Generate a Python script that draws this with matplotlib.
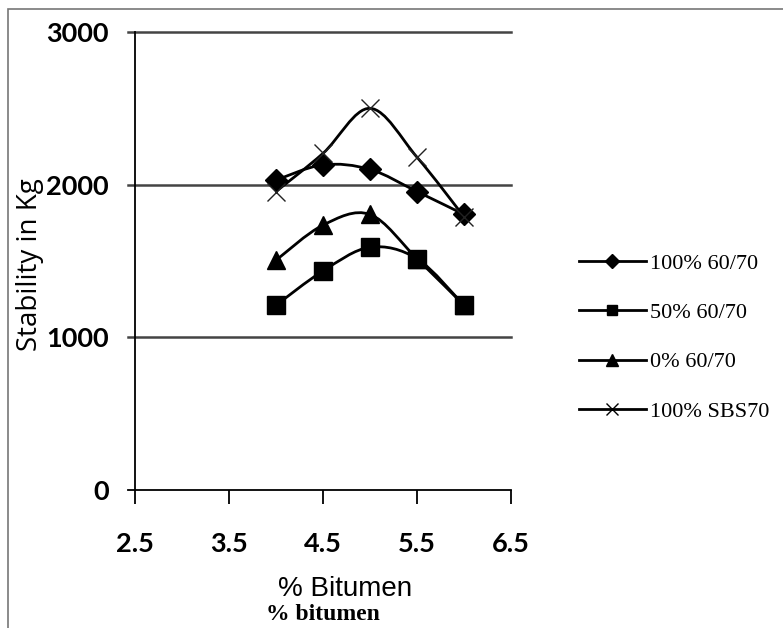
import numpy as np
import matplotlib
matplotlib.use("Agg")
import matplotlib.pyplot as plt
from matplotlib.path import Path
from matplotlib.patches import PathPatch, Rectangle
from matplotlib.lines import Line2D

# ---- data ----
bitumen = [4.0, 4.5, 5.0, 5.5, 6.0]
s100_6070 = [2030, 2130, 2100, 1955, 1805]
s50_6070 = [1210, 1435, 1590, 1515, 1210]
s0_6070 = [1505, 1735, 1805, 1515, 1210]
s100_sbs70 = [1955, 2205, 2500, 2180, 1790]
labels = ["100% 60/70", "50% 60/70", "0% 60/70", "100% SBS70"]
xticks = [2.5, 3.5, 4.5, 5.5, 6.5]
yticks = [0, 1000, 2000, 3000]

tickfont = "Lato"

fig = plt.figure(figsize=(7.83, 6.28), dpi=100)
W, H = 783, 628
ax = fig.add_axes([135 / W, 1 - 490 / H, 376 / W, 458 / H])
ax.set_xlim(2.5, 6.5)
ax.set_ylim(0, 3000)
for s in ax.spines.values():
    s.set_visible(False)
ax.patch.set_visible(False)

# border of the figure
fig.patches.append(Rectangle((8 / W, -0.01), 1.0, 1 - 9 / H + 0.01, transform=fig.transFigure,
                             fill=False, edgecolor="#777777", lw=1.2))

# gridlines / axes
for y in yticks[1:]:
    ax.plot([2.5 - 7 / 94, 6.5], [y, y], color="#444444", lw=1.8, clip_on=False, zorder=1)
ax.plot([2.5 - 7 / 94, 6.5], [0, 0], color="black", lw=1.3, clip_on=False, zorder=1)
ax.plot([2.5, 2.5], [0, 3000], color="black", lw=1.3, clip_on=False, zorder=1)
ax.set_xticks(xticks)
ax.set_yticks(yticks)
ax.tick_params(axis="x", direction="out", length=10, width=1.3, pad=20)
ax.tick_params(axis="y", length=0, pad=19)
ax.set_xticklabels([str(v) for v in xticks], fontfamily=tickfont, fontweight="bold", fontsize=19.5)
ax.set_yticklabels([str(v) for v in yticks], fontfamily=tickfont, fontweight="bold", fontsize=19.5)


def smooth(ax, x, y, **kw):
    x = np.asarray(x, float)
    y = np.asarray(y, float)
    P = np.column_stack([x, y])
    n = len(P)
    verts = [P[0]]
    codes = [Path.MOVETO]
    for i in range(n - 1):
        p0 = P[i - 1] if i > 0 else P[i]
        p1 = P[i]
        p2 = P[i + 1]
        p3 = P[i + 2] if i + 2 < n else P[i + 1]
        c1 = p1 + (p2 - p0) / 6.0
        c2 = p2 - (p3 - p1) / 6.0
        verts += [c1, c2, p2]
        codes += [Path.CURVE4] * 3
    ax.add_patch(PathPatch(Path(verts, codes), fill=False, **kw))


series = [s100_6070, s50_6070, s0_6070, s100_sbs70]
markers = [("D", 11, 0), ("s", 12.5, 0), ("^", 13, 0), ("x", 13, 1.0)]
handles = []
for data, (m, ms, mew), lab in zip(series, markers, labels):
    smooth(ax, bitumen, data, edgecolor="black", lw=2.0, zorder=3)
    if m == "x":
        ax.plot(bitumen, data, ls="none", marker=m, ms=ms, mew=mew, color="#222222", zorder=4)
    else:
        ax.plot(bitumen, data, ls="none", marker=m, ms=ms, color="black", mec="black", zorder=4)
    handles.append(Line2D([], [], color="black", lw=2.0, marker=m,
                          ms=ms * 0.62, mew=1.0))

fig.legend(handles, labels, loc="upper left", bbox_to_anchor=(559 / W, 1 - 233 / H),
           frameon=False, handlelength=3.0, handletextpad=0.2, labelspacing=1.3,
           prop={"family": "Liberation Serif", "size": 16})

fig.text(30 / W, 1 - 265 / H, "Stability in Kg", rotation=90, ha="center", va="center",
         fontfamily="Open Sans", fontsize=20)
fig.text(345 / W, 1 - 589 / H, "% Bitumen", ha="center", va="center",
         fontfamily="Liberation Sans", fontsize=20)
fig.text(323 / W, 1 - 614 / H, "% bitumen", ha="center", va="center",
         fontfamily="Liberation Serif", fontweight="bold", fontsize=17)

fig.savefig("out.png", dpi=100)
